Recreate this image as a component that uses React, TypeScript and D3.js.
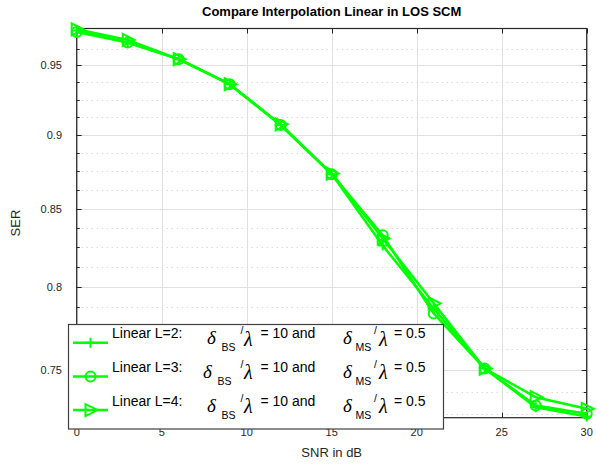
import { useEffect, useRef } from "react";
import * as d3 from "d3";

// SNR values (dB)
const snr = [0, 3, 6, 9, 12, 15, 18, 21, 24, 27, 30];

// SER per interpolation order
const serL2 = [0.976, 0.967, 0.9546, 0.9362, 0.907, 0.8731, 0.826, 0.7866, 0.7508, 0.7286, 0.7234];
const serL3 = [0.975, 0.967, 0.9546, 0.9362, 0.907, 0.8731, 0.8326, 0.7836, 0.7508, 0.7296, 0.7249];
const serL4 = [0.977, 0.969, 0.9546, 0.9362, 0.9075, 0.8735, 0.8306, 0.7898, 0.7508, 0.7343, 0.7277];

const seriesNames = ["Linear L=2:", "Linear L=3:", "Linear L=4:"];
const markers = ["plus", "circle", "triangle"];

const xTicks = [0, 5, 10, 15, 20, 25, 30];
const yTicks = [0.75, 0.8, 0.85, 0.9, 0.95];
const yMinorTicks = [
  0.725, 0.7375, 0.7625, 0.775, 0.7875, 0.8125, 0.825, 0.8375, 0.8625, 0.875,
  0.8875, 0.9125, 0.925, 0.9375, 0.9625,
];

const W = 597;
const H = 464;
const GREEN = "#00ff00";
const AXIS = "#262626";
const SANS = "'Liberation Sans', Arial, sans-serif";
const SERIF = "'Liberation Serif', 'Times New Roman', serif";

const App = () => {
  const svgRef = useRef<SVGSVGElement | null>(null);

  useEffect(() => {
    const svg = d3.select(svgRef.current);
    svg.selectAll("*").remove();

    const left = 76.7,
      right = 586.7,
      top = 28.5,
      bottom = 417.7;

    const x = d3.scaleLinear().domain([0, 30]).range([left, right]);
    const y = d3.scaleLog().domain([0.7227, 0.9776]).range([bottom, top]);

    svg.append("rect").attr("width", W).attr("height", H).attr("fill", "white");

    // grid
    const grid = svg.append("g");
    grid
      .selectAll(".ymin")
      .data(yMinorTicks)
      .enter()
      .append("line")
      .attr("x1", left)
      .attr("x2", right)
      .attr("y1", (d) => Math.round(y(d)) + 0.5)
      .attr("y2", (d) => Math.round(y(d)) + 0.5)
      .attr("stroke", "#c8c8c8")
      .attr("stroke-dasharray", "1,4");
    grid
      .selectAll(".ymaj")
      .data(yTicks)
      .enter()
      .append("line")
      .attr("x1", left)
      .attr("x2", right)
      .attr("y1", (d) => Math.round(y(d)) + 0.5)
      .attr("y2", (d) => Math.round(y(d)) + 0.5)
      .attr("stroke", "#e0e0e0");
    grid
      .selectAll(".xmaj")
      .data(xTicks)
      .enter()
      .append("line")
      .attr("x1", (d) => Math.round(x(d)) + 0.5)
      .attr("x2", (d) => Math.round(x(d)) + 0.5)
      .attr("y1", top)
      .attr("y2", bottom)
      .attr("stroke", "#e0e0e0");

    // tick marks (inside, all four sides)
    const ticks = svg.append("g").attr("stroke", AXIS).attr("stroke-width", 1);
    xTicks.forEach((t) => {
      const px = Math.round(x(t)) + 0.5;
      ticks.append("line").attr("x1", px).attr("x2", px).attr("y1", bottom).attr("y2", bottom - 5);
      ticks.append("line").attr("x1", px).attr("x2", px).attr("y1", top).attr("y2", top + 5);
    });
    yTicks.forEach((t) => {
      const py = Math.round(y(t)) + 0.5;
      ticks.append("line").attr("x1", left).attr("x2", left + 5).attr("y1", py).attr("y2", py);
      ticks.append("line").attr("x1", right).attr("x2", right - 5).attr("y1", py).attr("y2", py);
    });
    yMinorTicks.forEach((t) => {
      const py = Math.round(y(t)) + 0.5;
      ticks.append("line").attr("x1", left).attr("x2", left + 3).attr("y1", py).attr("y2", py);
      ticks.append("line").attr("x1", right).attr("x2", right - 3).attr("y1", py).attr("y2", py);
    });

    // box
    svg
      .append("rect")
      .attr("x", left)
      .attr("y", top)
      .attr("width", right - left)
      .attr("height", bottom - top)
      .attr("fill", "none")
      .attr("stroke", AXIS)
      .attr("stroke-width", 1.2);

    // tick labels
    svg
      .append("g")
      .selectAll("text")
      .data(xTicks)
      .enter()
      .append("text")
      .attr("x", (d) => x(d))
      .attr("y", 436)
      .attr("text-anchor", "middle")
      .attr("font-family", SANS)
      .attr("font-size", 11)
      .attr("fill", AXIS)
      .text((d) => d);
    svg
      .append("g")
      .selectAll("text")
      .data(yTicks)
      .enter()
      .append("text")
      .attr("x", 62)
      .attr("y", (d) => y(d) + 4)
      .attr("text-anchor", "end")
      .attr("font-family", SANS)
      .attr("font-size", 11)
      .attr("fill", AXIS)
      .text((d) => d);

    // labels
    svg
      .append("text")
      .attr("x", (left + right) / 2)
      .attr("y", 16)
      .attr("text-anchor", "middle")
      .attr("font-family", SANS)
      .attr("font-weight", "bold")
      .attr("font-size", 13)
      .attr("fill", "black")
      .text("Compare Interpolation Linear in LOS SCM");
    svg
      .append("text")
      .attr("x", (left + right) / 2)
      .attr("y", 457)
      .attr("text-anchor", "middle")
      .attr("font-family", SANS)
      .attr("font-size", 13)
      .attr("fill", AXIS)
      .text("SNR in dB");
    svg
      .append("text")
      .attr("transform", `translate(20,${(top + bottom) / 2}) rotate(-90)`)
      .attr("text-anchor", "middle")
      .attr("font-family", SANS)
      .attr("font-size", 13)
      .attr("fill", AXIS)
      .text("SER");

    const drawMarker = (
      g: d3.Selection<SVGGElement, unknown, null, undefined>,
      kind: string,
      cx: number,
      cy: number
    ) => {
      if (kind === "plus") {
        g.append("path")
          .attr("d", `M${cx - 5},${cy}H${cx + 5}M${cx},${cy - 5}V${cy + 5}`)
          .attr("stroke", GREEN)
          .attr("stroke-width", 2)
          .attr("fill", "none");
      } else if (kind === "circle") {
        g.append("circle")
          .attr("cx", cx)
          .attr("cy", cy)
          .attr("r", 5)
          .attr("stroke", GREEN)
          .attr("stroke-width", 2)
          .attr("fill", "none");
      } else {
        g.append("path")
          .attr("d", `M${cx - 5},${cy - 6}L${cx + 7},${cy}L${cx - 5},${cy + 6}Z`)
          .attr("stroke", GREEN)
          .attr("stroke-width", 2)
          .attr("fill", "none");
      }
    };

    // series
    const line = d3
      .line<number>()
      .x((_, i) => x(snr[i]))
      .y((d) => y(d));
    const plot = svg.append("g");
    [serL2, serL3, serL4].forEach((s, k) => {
      plot
        .append("path")
        .attr("d", line(s))
        .attr("fill", "none")
        .attr("stroke", GREEN)
        .attr("stroke-width", 2.5)
        .attr("stroke-linejoin", "round");
      s.forEach((v, i) => drawMarker(plot, markers[k], x(snr[i]), y(v)));
    });

    // legend
    const lx = 68.5,
      ly = 324.5,
      lw = 375,
      lh = 104.5;
    const leg = svg.append("g");
    leg
      .append("rect")
      .attr("x", lx)
      .attr("y", ly)
      .attr("width", lw)
      .attr("height", lh)
      .attr("fill", "white")
      .attr("stroke", "#404040")
      .attr("stroke-width", 1.2);

    const deltaX = [207, 203, 207];
    seriesNames.forEach((name, i) => {
      const ry = 342.7 + i * 33.7;
      leg
        .append("line")
        .attr("x1", 73)
        .attr("x2", 108)
        .attr("y1", ry)
        .attr("y2", ry)
        .attr("stroke", GREEN)
        .attr("stroke-width", 2.5);
      drawMarker(leg, markers[i], 90.5, ry);
      leg
        .append("text")
        .attr("x", 112)
        .attr("y", ry - 4.5)
        .attr("font-family", SANS)
        .attr("font-size", 14)
        .attr("fill", "black")
        .text(name);

      const mathTerm = (dx: number, sub: string, subX: number, slashX: number, lamX: number, eqX: number, rest: string) => {
        leg
          .append("text")
          .attr("x", dx)
          .attr("y", ry + 1.5)
          .attr("font-family", SERIF)
          .attr("font-style", "italic")
          .attr("font-size", 19)
          .attr("fill", "black")
          .text("δ");
        leg
          .append("text")
          .attr("x", subX)
          .attr("y", ry + 8.5)
          .attr("font-family", SANS)
          .attr("font-size", 10.5)
          .attr("fill", "black")
          .text(sub);
        leg
          .append("text")
          .attr("x", slashX)
          .attr("y", ry - 8.5)
          .attr("font-family", SANS)
          .attr("font-size", 10.5)
          .attr("fill", "black")
          .text("/");
        leg
          .append("text")
          .attr("x", lamX)
          .attr("y", ry + 3)
          .attr("font-family", SERIF)
          .attr("font-style", "italic")
          .attr("font-size", 20)
          .attr("fill", "black")
          .text("λ");
        leg
          .append("text")
          .attr("x", eqX)
          .attr("y", ry - 4.5)
          .attr("font-family", SANS)
          .attr("font-size", 14)
          .attr("fill", "black")
          .text(rest);
      };
      mathTerm(deltaX[i], "BS", deltaX[i] + 14.5, 240.5, 244, 260.5, "= 10 and");
      mathTerm(343, "MS", 355.5, 374, 379, 394, "= 0.5");
    });
  }, []);

  return (
    <svg
      ref={svgRef}
      width={W}
      height={H}
      style={{ position: "absolute", left: 0, top: 0 }}
    ></svg>
  );
};

export default App;
